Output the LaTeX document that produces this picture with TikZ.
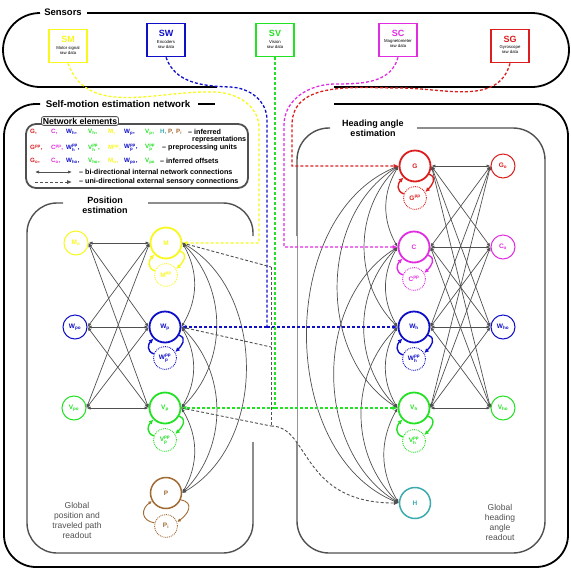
\documentclass[tikz,border=0pt]{standalone}
\usepackage{amsmath}
\usepackage{fontspec}
\setmainfont{Liberation Sans}
\usetikzlibrary{arrows.meta}

\definecolor{cyel}{RGB}{248,248,30}
\definecolor{cblu}{RGB}{15,15,200}
\definecolor{cgrn}{RGB}{35,225,35}
\definecolor{cmag}{RGB}{225,45,225}
\definecolor{cred}{RGB}{220,30,30}
\definecolor{cteal}{RGB}{60,170,175}
\definecolor{cbrn}{RGB}{160,105,50}
\definecolor{lgray}{RGB}{80,80,80}

\tikzset{
  rep/.style={circle, draw=#1, text=#1, fill=white, line width=1.8pt, minimum size=31pt, inner sep=0pt, font=\bfseries\fontsize{6.5}{7}\selectfont},
  off/.style={circle, draw=#1, text=#1, fill=white, line width=1pt, minimum size=24pt, inner sep=0pt, font=\bfseries\fontsize{6.5}{7}\selectfont},
  pre/.style={circle, draw=#1, text=#1, fill=white, densely dotted, line width=0.9pt, minimum size=23pt, inner sep=0pt, font=\bfseries\fontsize{6.5}{7}\selectfont},
  sens/.style={rectangle, draw=#1, fill=white, line width=1.8pt, minimum width=38pt, minimum height=33pt},
  sensname/.style={text=#1, inner sep=0pt, font=\bfseries\fontsize{9}{9}\selectfont},
  senstext/.style={align=center, inner sep=0pt, font=\fontsize{4.3}{5}\selectfont},
  outerframe/.style={draw=black, line width=1.8pt},
  subframe/.style={draw=lgray, line width=1.4pt},
  boxtitle/.style={inner sep=1pt, align=center, font=\bfseries\fontsize{9}{10}\selectfont},
  readout/.style={align=center, text=lgray, font=\fontsize{8.5}{10}\selectfont},
  link/.style={draw=lgray, line width=0.7pt, <->, >={Latex[length=4pt,width=3.2pt]}},
  ext/.style={dash pattern=on 3pt off 2pt, line width=1.3pt},
  bus/.style={draw=lgray, dash pattern=on 3pt off 2pt, line width=0.9pt},
  tipx/.style={->, >={Latex[length=5pt,width=4.2pt]}},
  feed/.style={line width=1.4pt, ->, >={Latex[length=4.5pt,width=4.5pt]}},
  leg/.style={anchor=west, inner sep=0pt, font=\bfseries\fontsize{6.2}{7}\selectfont},
  legtext/.style={anchor=west, inner sep=0pt, font=\bfseries\fontsize{7.2}{8}\selectfont},
  legtitle/.style={draw=lgray, fill=white, line width=0.8pt, rounded corners=2pt, inner sep=1.2pt, font=\bfseries\fontsize{8.7}{9}\selectfont}
}

\begin{document}
\begin{tikzpicture}[x=1pt,y=1pt]
    \useasboundingbox (0,0) rectangle (571,-571);

    % Cornici
    \draw[outerframe] (87,-13) -- (532,-13) arc[start angle=90,end angle=-90,radius=37] -- (334,-87);
    \draw[outerframe] (217,-87) -- (40,-87) arc[start angle=270,end angle=90,radius=37];
    \node[boxtitle, font=\bfseries\fontsize{9.5}{10}\selectfont] (sensT) at (63,-12) {Sensors};

    \draw[outerframe] (334,-104) -- (536,-104) arc[start angle=90,end angle=0,radius=32] -- (568,-535) arc[start angle=0,end angle=-90,radius=32] -- (36,-567) arc[start angle=270,end angle=180,radius=32] -- (4,-136) arc[start angle=180,end angle=90,radius=32] -- (40,-104);
    \draw[outerframe] (198,-104) -- (215,-104);
    \node[boxtitle, font=\bfseries\fontsize{9.7}{10}\selectfont] (netT) at (118,-104) {Self-motion estimation network};

    \draw[subframe] (148,-203) -- (223,-203) arc[start angle=90,end angle=0,radius=30] -- (253,-236);
    \draw[subframe] (253,-442) -- (253,-523) arc[start angle=0,end angle=-90,radius=30] -- (57,-553) arc[start angle=270,end angle=180,radius=30] -- (27,-233) arc[start angle=180,end angle=90,radius=30] -- (63,-203);
    \node[boxtitle] (posT) at (105,-205) {Position\\estimation};

    \draw[subframe] (417,-128) -- (513,-128) arc[start angle=90,end angle=0,radius=32] -- (545,-521) arc[start angle=0,end angle=-90,radius=32] -- (329,-553) arc[start angle=270,end angle=180,radius=32] -- (297,-442);
    \draw[subframe] (297,-236) -- (297,-160) arc[start angle=180,end angle=90,radius=32] -- (330,-128);
    \draw[lgray!60, line width=0.4pt] (297,-236) -- (297,-442);
    \node[boxtitle] (headT) at (373,-128) {Heading angle\\estimation};

    % Legenda
    \draw[draw=lgray, line width=1.8pt, rounded corners=10pt] (26,-124) rectangle (248,-188);
    \node[legtitle] (legT) at (80,-121) {Network elements};
    \foreach \t/\c/\x [count=\i] in {{G,}/cred/30, {C,}/cmag/51, {$\text{W}_\text{h}$,}/cblu/66, {$\text{V}_\text{h}$,}/cgrn/88, {M,}/cyel/108, {$\text{W}_\text{p}$,}/cblu/124, {$\text{V}_\text{p}$,}/cgrn/145, {H,}/cteal/160, {P,}/cbrn/168, {$\text{P}_\text{i}$}/cbrn/176}
        \node[leg, text=\c] (ra\i) at (\x,-132) {\t};
    \foreach \t/\c/\x [count=\i] in {{$\text{G}^\text{pp}$,}/cred/30, {$\text{C}^\text{pp}$,}/cmag/51, {$\text{W}_\text{h}^\text{pp}$,}/cblu/66, {$\text{V}_\text{h}^\text{pp}$,}/cgrn/88, {$\text{M}^\text{pp}$,}/cyel/108, {$\text{W}_\text{p}^\text{pp}$,}/cblu/124, {$\text{V}_\text{p}^\text{pp}$}/cgrn/145}
        \node[leg, text=\c] (rb\i) at (\x,-148) {\t};
    \foreach \t/\c/\x [count=\i] in {{$\text{G}_\text{o}$,}/cred/30, {$\text{C}_\text{o}$,}/cmag/51, {$\text{W}_\text{ho}$,}/cblu/66, {$\text{V}_\text{ho}$,}/cgrn/88, {$\text{M}_\text{o}$,}/cyel/108, {$\text{W}_\text{po}$,}/cblu/124, {$\text{V}_\text{po}$}/cgrn/145}
        \node[leg, text=\c] (rc\i) at (\x,-161) {\t};
    \node[legtext] (raT) at (188,-132) {-- inferred};
    \node[legtext] (raT2) at (192,-140) {representations};
    \node[legtext] (rbT) at (162,-148) {-- preprocessing units};
    \node[legtext] (rcT) at (160,-161) {-- inferred offsets};
    \coordinate (la1) at (35,-172);
    \coordinate (la2) at (72,-172);
    \draw[link] (la1) -- (la2);
    \node[legtext] (rdT) at (79,-172) {-- bi-directional internal network connections};
    \coordinate (lb1) at (35,-182);
    \coordinate (lb2) at (72,-182);
    \draw[bus, tipx] (lb1) -- (lb2);
    \node[legtext] (reT) at (79,-182) {-- uni-directional external sensory connections};

    % Sensori
    \node[sens=cyel] (SM) at (68,-46) {};
    \node[sensname=cyel] (SMn) at ([yshift=7pt]SM.center) {SM};
    \node[senstext] (SMd) at ([yshift=-4pt]SM.center) {Motor signal\\raw data};
    \node[sens=cblu] (SW) at (166,-40) {};
    \node[sensname=cblu] (SWn) at ([yshift=7pt]SW.center) {SW};
    \node[senstext] (SWd) at ([yshift=-4pt]SW.center) {Encoders\\raw data};
    \node[sens=cgrn] (SV) at (275,-40) {};
    \node[sensname=cgrn] (SVn) at ([yshift=7pt]SV.center) {SV};
    \node[senstext] (SVd) at ([yshift=-4pt]SV.center) {Vision\\raw data};
    \node[sens=cmag] (SC) at (398,-40) {};
    \node[sensname=cmag] (SCn) at ([yshift=7pt]SC.center) {SC};
    \node[senstext] (SCd) at ([yshift=-4pt]SC.center) {Magnetometer\\raw data};
    \node[sens=cred] (SG) at (510,-46) {};
    \node[sensname=cred] (SGn) at ([yshift=7pt]SG.center) {SG};
    \node[senstext] (SGd) at ([yshift=-4pt]SG.center) {Gyroscope\\raw data};

    % Nodi - posizione
    \node[off=cyel] (Mo) at (76,-243) {$\text{M}_\text{o}$};
    \node[rep=cyel] (M) at (166,-243) {M};
    \node[pre=cyel] (ppM) at (166,-275) {$\text{M}^\text{pp}$};
    \node[off=cblu] (Wpo) at (75,-327) {$\text{W}_\text{po}$};
    \node[rep=cblu] (Wp) at (165,-327) {$\text{W}_\text{p}$};
    \node[pre=cblu] (ppWp) at (165,-358) {$\text{W}_\text{p}^\text{pp}$};
    \node[off=cgrn] (Vpo) at (74,-408) {$\text{V}_\text{po}$};
    \node[rep=cgrn] (Vp) at (165,-408) {$\text{V}_\text{p}$};
    \node[pre=cgrn] (ppVp) at (165,-440) {$\text{V}_\text{p}^\text{pp}$};
    \node[rep=cbrn, line width=1.5pt] (P) at (166,-493) {P};
    \node[pre=cbrn] (Pi) at (166,-526) {$\text{P}_\text{i}$};

    % Nodi - direzione
    \node[rep=cred] (G) at (415,-166) {G};
    \node[pre=cred] (ppG) at (415,-198) {$\text{G}^\text{pp}$};
    \node[off=cred] (Go) at (503,-166) {$\text{G}_\text{o}$};
    \node[rep=cmag] (C) at (414,-247) {C};
    \node[pre=cmag] (ppC) at (414,-279) {$\text{C}^\text{pp}$};
    \node[off=cmag] (Co) at (503,-247) {$\text{C}_\text{o}$};
    \node[rep=cblu] (Wh) at (414,-327) {$\text{W}_\text{h}$};
    \node[pre=cblu] (ppWh) at (414,-359) {$\text{W}_\text{h}^\text{pp}$};
    \node[off=cblu] (Who) at (503,-327) {$\text{W}_\text{ho}$};
    \node[rep=cgrn] (Vh) at (414,-408) {$\text{V}_\text{h}$};
    \node[pre=cgrn] (ppVh) at (414,-441) {$\text{V}_\text{h}^\text{pp}$};
    \node[off=cgrn] (Vho) at (503,-408) {$\text{V}_\text{ho}$};
    \node[rep=cteal, line width=1.5pt] (H) at (415,-503) {H};

    \node[readout] (posR) at (77,-520) {Global\\position and\\traveled path\\readout};
    \node[readout] (headR) at (500,-522) {Global\\heading\\angle\\readout};

    % Archi interni
    \foreach \a in {Mo,Wpo,Vpo}
        \foreach \b in {M,Wp,Vp}
            \draw[link] (\a.east) -- (\b.west);
    \foreach \a in {G,C,Wh,Vh}
        \foreach \b in {Go,Co,Who,Vho}
            \draw[link] (\a.east) -- (\b.west);
    \foreach \a/\b/\k in {M/Wp/30, Wp/Vp/30, Vp/P/30, M/Vp/45, Wp/P/45, M/P/60}
        \draw[link] (\a.east) to[bend left=\k] (\b.east);
    \foreach \a/\b/\k in {G/C/30, C/Wh/30, Wh/Vh/30, Vh/H/30, G/Wh/45, C/Vh/45, Wh/H/45, G/Vh/58, C/H/58, G/H/68}
        \draw[link] (\a.west) to[bend right=\k] (\b.west);

    % Preprocessing
    \foreach \n/\c in {M/cyel, Wp/cblu, Vp/cgrn, G/cred, C/cmag, Wh/cblu, Vh/cgrn}{
        \draw[feed, draw=\c] (\n.-30) to[out=-20, in=45, looseness=1.3] (pp\n.30);
        \draw[feed, draw=\c] (pp\n.160) to[out=160, in=-135, looseness=1.3] (\n.-135);
    }
    \draw[feed, draw=cbrn, line width=0.9pt, >={Latex[length=3.5pt,width=3.5pt]}] (P.-25) to[out=-10, in=35, looseness=1.6] (Pi.20);
    \draw[feed, draw=cbrn, line width=0.9pt, >={Latex[length=3.5pt,width=3.5pt]}] (Pi.165) to[out=170, in=-145, looseness=1.6] (P.-150);

    % Archi sensoriali
    \draw[ext, draw=cyel, tipx] (SM.south) to[out=-70, in=178] (215,-92) to[out=-2, in=90] (259,-128) -- (259,-243) -- (M.east);
    \draw[ext, draw=cblu] (SW.south) to[out=-70, in=178] (230,-87) to[out=-2, in=90] (267,-120) -- (267,-327) coordinate (wjun);
    \draw[ext, draw=cblu, tipx] (wjun) -- (Wp.east);
    \draw[ext, draw=cblu, tipx] (wjun) -- (Wh.west);
    \draw[ext, draw=cgrn] (SV.south) -- (SV.south |- Vp.east) coordinate (vjun);
    \draw[ext, draw=cgrn, tipx] (vjun) -- (Vp.east);
    \draw[ext, draw=cgrn, tipx] (vjun) -- (Vh.west);
    \draw[ext, draw=cmag, tipx] (SC.south) to[out=-105, in=0] (335,-84) to[out=180, in=90] (284,-125) -- (284,-247) -- (C.west);
    \draw[ext, draw=cred, tipx] (SG.south) to[out=-105, in=0] (400,-88) to[out=180, in=90] (292,-125) -- (292,-166) -- (G.west);

    % Uscita verso H
    \draw[bus] (M.east) -- (271,-267) coordinate (b1);
    \draw[bus] (Wp.east) -- (271,-347) coordinate (b2);
    \draw[bus] (Vp.east) -- (271,-426) coordinate (b3);
    \draw[bus] (b1) -- (b3);
    \draw[bus, tipx] (b3) .. controls (310,-426) and (300,-503) .. (H.west);
\end{tikzpicture}
\end{document}
